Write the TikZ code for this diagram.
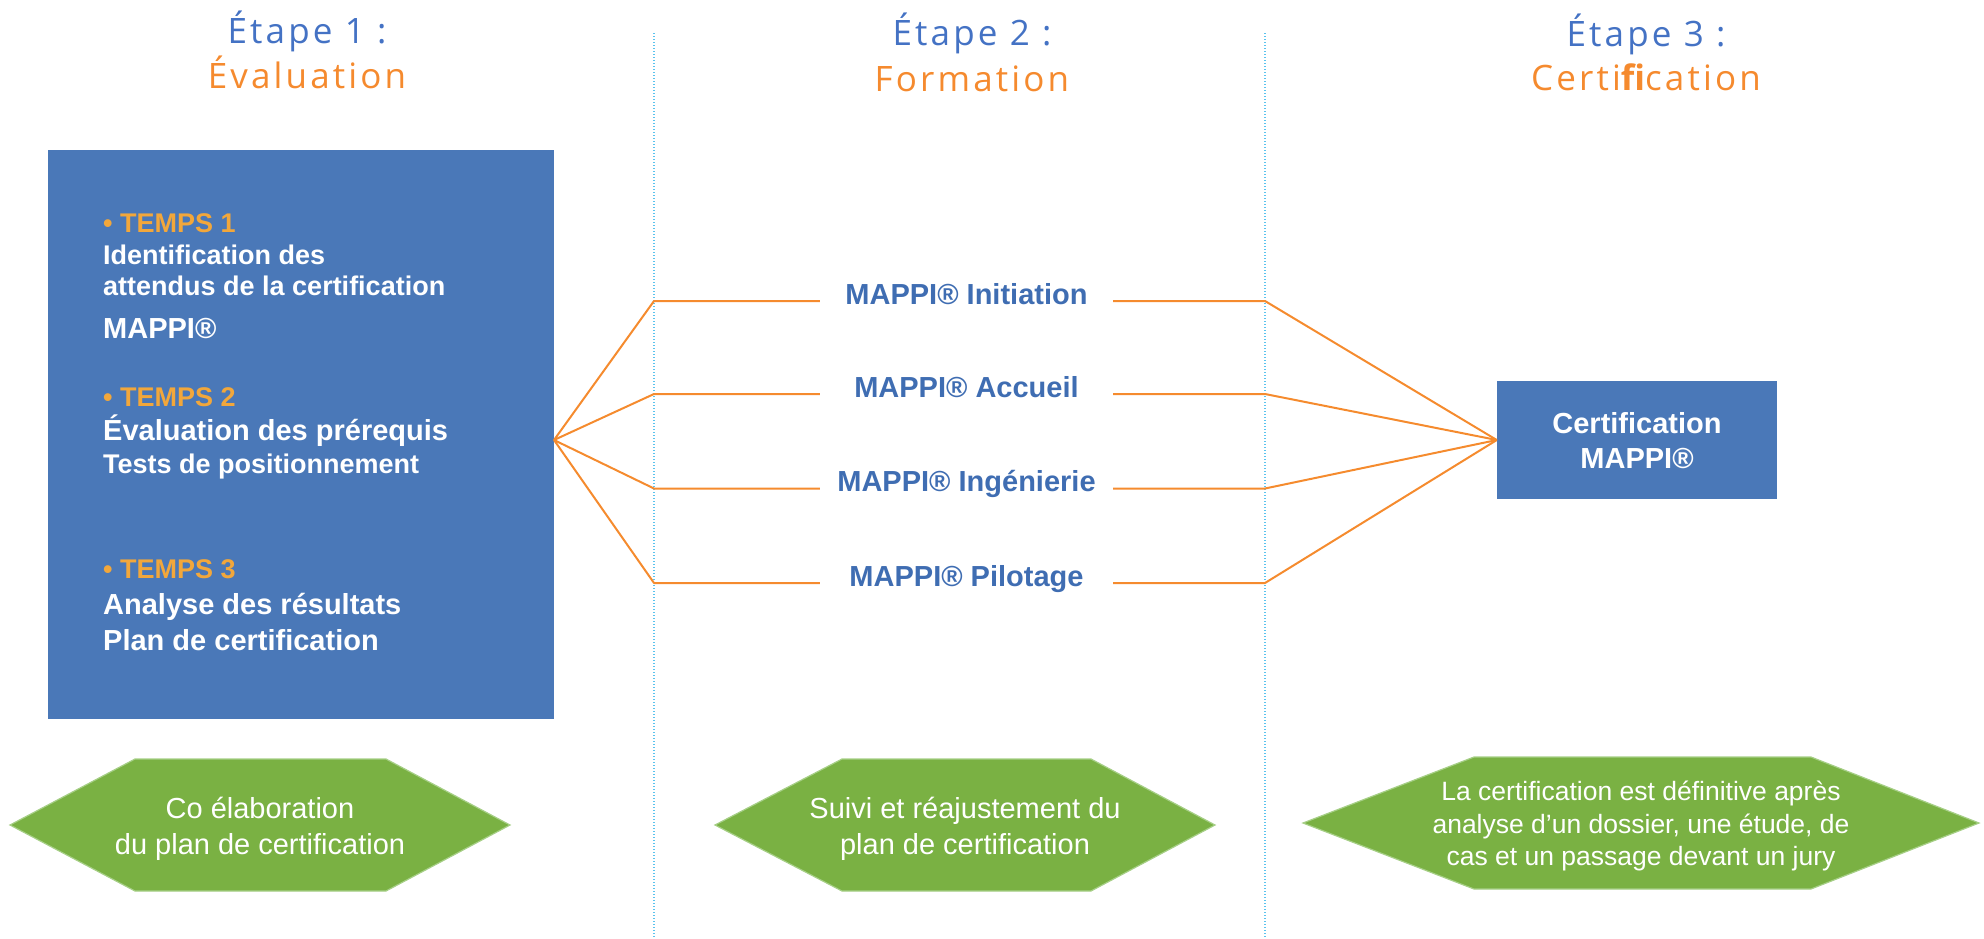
\documentclass[tikz,border=0pt]{standalone}
\usepackage{fontspec}
\setmainfont{Liberation Sans}
\newfontfamily\titlefont[LetterSpace=9]{Open Sans}
\definecolor{ttlblue}{HTML}{4472C4}
\definecolor{ttlorange}{HTML}{F58A2E}
\definecolor{boxblue}{HTML}{4A78B8}
\definecolor{lblblue}{HTML}{3F6DB2}
\definecolor{tempsor}{HTML}{F2A73B}
\definecolor{lineor}{HTML}{F58B2E}
\definecolor{hexgreen}{HTML}{7AB143}
\definecolor{hexedge}{HTML}{A6CF86}
\definecolor{dotblue}{HTML}{5BC3EE}
\begin{document}
\begin{tikzpicture}[x=1pt,y=-1pt,
  ttl/.style={anchor=base, inner sep=0pt, font=\titlefont\fontsize{35}{42}\selectfont},
  bluebox/.style={fill=boxblue, draw=none, inner sep=0pt},
  boxtxt/.style={anchor=base west, inner sep=0pt, text=white, font=\bfseries\fontsize{27}{32}\selectfont},
  boxtxtL/.style={anchor=base west, inner sep=0pt, text=white, font=\bfseries\fontsize{29}{34}\selectfont},
  temps/.style={anchor=base west, inner sep=0pt, text=tempsor, font=\bfseries\fontsize{27}{32}\selectfont},
  lbl/.style={inner sep=0pt, minimum width=293pt, text height=21pt, text depth=15pt, text=lblblue, font=\bfseries\fontsize{29}{34}\selectfont},
  certtxt/.style={anchor=base, inner sep=0pt, text=white, font=\bfseries\fontsize{29}{34}\selectfont},
  orline/.style={draw=lineor, line width=2pt, line join=round},
  hexfill/.style={fill=hexgreen, draw=hexedge, line width=1.2pt},
  hextxt/.style={anchor=base, inner sep=0pt, text=white, font=\fontsize{29}{34}\selectfont},
  hextxtS/.style={anchor=base, inner sep=0pt, text=white, font=\fontsize{26.5}{32}\selectfont},
  divider/.style={draw=dotblue, line width=1.3pt, dash pattern=on 1.3pt off 1.7pt}
]
\useasboundingbox (0,0) rectangle (1984,938);

% dividers
\coordinate (d1top) at (654,33); \coordinate (d1bot) at (654,938);
\coordinate (d2top) at (1265,33); \coordinate (d2bot) at (1265,938);
\draw[divider] (d1top) -- (d1bot);
\draw[divider] (d2top) -- (d2bot);

% titles
\node[ttl, text=ttlblue] (t1a) at (307,43) {Étape 1 :};
\node[ttl, text=ttlorange] (t1b) at (307,88) {Évaluation};
\node[ttl, text=ttlblue] (t2a) at (972,45) {Étape 2 :};
\node[ttl, text=ttlorange] (t2b) at (972,91) {Formation};
\node[ttl, text=ttlblue] (t3a) at (1646,46) {Étape 3 :};
\node[ttl, text=ttlorange] (t3b) at (1646,90) {Certi{\bfseries fi}cation};

% evaluation box
\node[bluebox, minimum width=506pt, minimum height=569pt, anchor=north west] (evalbox) at (48,150) {};
\node[temps] (tp1) at (103,232) {• TEMPS 1};
\node[boxtxt] (e1a) at (103,264) {Identification des};
\node[boxtxt] (e1b) at (103,295) {attendus de la certification};
\node[boxtxtL] (e1c) at (103,338) {MAPPI®};
\node[temps] (tp2) at (103,406) {• TEMPS 2};
\node[boxtxtL] (e2a) at (103,440) {Évaluation des prérequis};
\node[boxtxt] (e2b) at (103,473) {Tests de positionnement};
\node[temps] (tp3) at (103,578) {• TEMPS 3};
\node[boxtxtL] (e3a) at (103,614) {Analyse des résultats};
\node[boxtxtL] (e3b) at (103,650) {Plan de certification};

% certification box
\node[bluebox, minimum width=280pt, minimum height=118pt] (cert) at (1637,440) {};
\node[certtxt] (certT1) at (1637,433) {Certification};
\node[certtxt] (certT2) at (1637,468) {MAPPI®};

% formation labels
\node[lbl] (lab1) at (966.5,301) {MAPPI® Initiation};
\node[lbl] (lab2) at (966.5,394) {MAPPI® Accueil};
\node[lbl] (lab3) at (966.5,488.5) {MAPPI® Ingénierie};
\node[lbl] (lab4) at (966.5,583) {MAPPI® Pilotage};

% connectors
\coordinate (fanL) at (554,440);
\coordinate (bL1) at (654,301); \coordinate (bL2) at (654,394);
\coordinate (bL3) at (654,488.5); \coordinate (bL4) at (654,583);
\coordinate (bR1) at (1265,301); \coordinate (bR2) at (1265,394);
\coordinate (bR3) at (1265,488.5); \coordinate (bR4) at (1265,583);
\draw[orline] (fanL) -- (bL1) -- (lab1.west);
\draw[orline] (fanL) -- (bL2) -- (lab2.west);
\draw[orline] (fanL) -- (bL3) -- (lab3.west);
\draw[orline] (fanL) -- (bL4) -- (lab4.west);
\draw[orline] (lab1.east) -- (bR1) -- (cert.west);
\draw[orline] (lab2.east) -- (bR2) -- (cert.west);
\draw[orline] (lab3.east) -- (bR3) -- (cert.west);
\draw[orline] (lab4.east) -- (bR4) -- (cert.west);

% hexagons
\filldraw[hexfill] (10,825) -- (135,759) -- (386,759) -- (510,825) -- (386,891) -- (135,891) -- cycle;
\filldraw[hexfill] (715,825) -- (842,759) -- (1091,759) -- (1215,825) -- (1091,891) -- (842,891) -- cycle;
\filldraw[hexfill] (1303,823) -- (1474,757) -- (1811,757) -- (1979,823) -- (1811,889) -- (1474,889) -- cycle;

\node[hextxt] (h1a) at (260,818) {Co élaboration};
\node[hextxt] (h1b) at (260,854) {du plan de certification};
\node[hextxt] (h2a) at (965,818) {Suivi et réajustement du};
\node[hextxt] (h2b) at (965,854) {plan de certification};
\node[hextxtS] (h3a) at (1641,800) {La certification est définitive après};
\node[hextxtS] (h3b) at (1641,833) {analyse d’un dossier, une étude, de};
\node[hextxtS] (h3c) at (1641,865) {cas et un passage devant un jury};
\end{tikzpicture}
\end{document}
